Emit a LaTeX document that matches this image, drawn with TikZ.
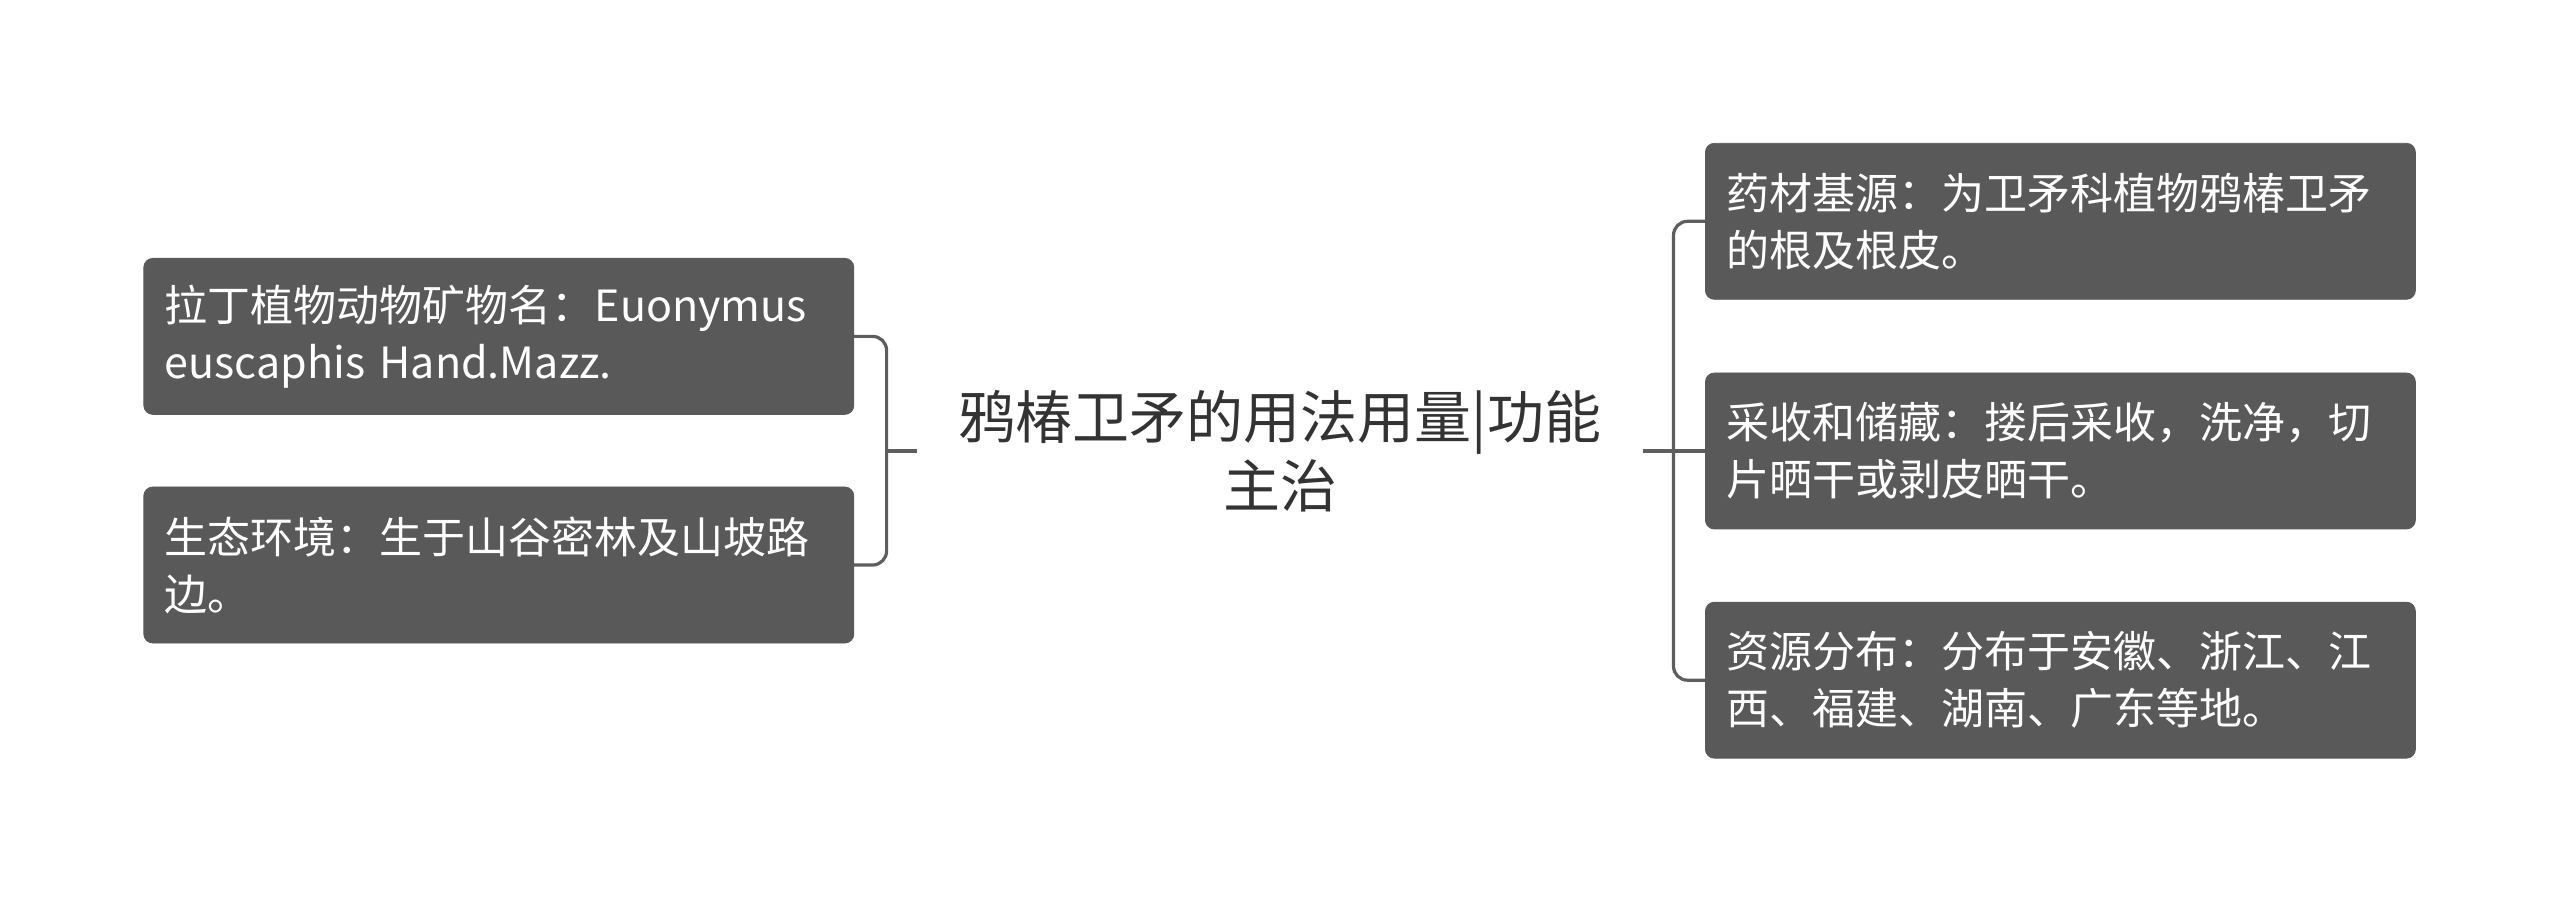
\documentclass[tikz,border=0pt]{standalone}
\usepackage{fontspec}
\setmainfont{Noto Sans CJK SC}
\definecolor{boxfill}{HTML}{595959}
\definecolor{linec}{HTML}{5E5E5E}
\definecolor{ctext}{HTML}{333333}
\begin{document}
\begin{tikzpicture}[x=0.5pt,y=-0.5pt,
  leaf/.style={fill=boxfill, draw=boxfill, rounded corners=4.5pt, text=white,
    text width=334pt, align=left, inner xsep=10.5pt, inner ysep=0pt,
    minimum height=78pt, font=\fontsize{21.5}{28.5}\selectfont},
  root/.style={text=ctext, align=center, inner sep=0pt, minimum width=362.5pt,
    font=\fontsize{28.5}{34.5}\selectfont},
  conn/.style={draw=linec, line width=1.6pt, rounded corners=7pt}]
\useasboundingbox (0,0) rectangle (2560,903);
\node[root] (c) at (1280,451) {鸦椿卫矛的用法用量|功能\\主治};
\node[leaf] (l1) at (498.8,336.4) {拉丁植物动物矿物名：Euonymus\\euscaphis Hand.Mazz.};
\node[leaf] (l2) at (498.8,565) {生态环境：生于山谷密林及山坡路\\边。};
\node[leaf] (r1) at (2060.4,221.3) {药材基源：为卫矛科植物鸦椿卫矛\\的根及根皮。};
\node[leaf] (r2) at (2060.4,451) {采收和储藏：搂后采收，洗净，切\\片晒干或剥皮晒干。};
\node[leaf] (r3) at (2060.4,680.2) {资源分布：分布于安徽、浙江、江\\西、福建、湖南、广东等地。};
\coordinate (lj) at (886.6,451);
\coordinate (rj) at (1673.5,451);
\draw[conn] (l1.east) -| (lj) |- (l2.east);
\draw[conn] (lj) -- (c.west);
\draw[conn] (c.east) -- (rj);
\draw[conn] (r1.west) -| (rj) |- (r3.west);
\draw[conn] (rj) -- (r2.west);
\end{tikzpicture}
\end{document}
